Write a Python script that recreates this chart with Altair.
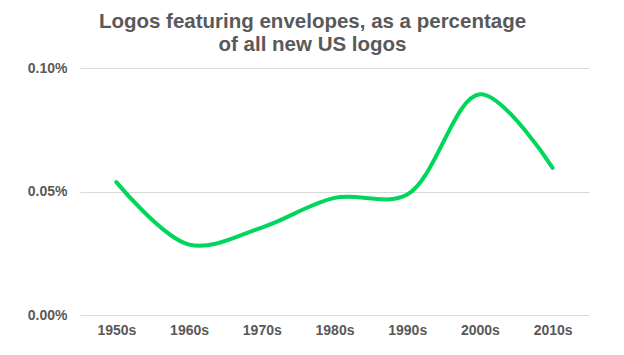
import altair as alt
import pandas as pd

decades = ["1950s", "1960s", "1970s", "1980s", "1990s", "2000s", "2010s"]
share_pct = [0.0538, 0.0285, 0.0354, 0.0474, 0.0488, 0.0894, 0.0596]

df = pd.DataFrame({"decade": decades, "share": [v / 100 for v in share_pct]})

grey = "#595959"
font = "Liberation Sans"

chart = (
    alt.Chart(df)
    .mark_line(interpolate="catmull-rom", color="#00d65b", strokeWidth=4, strokeCap="round")
    .encode(
        x=alt.X("decade:N", sort=decades, title=None,
                scale=alt.Scale(type="point", padding=0.5),
                axis=alt.Axis(labelAngle=0, domain=False, ticks=False, labelPadding=8,
                              labelFont=font, labelFontSize=14, labelFontWeight="bold",
                              labelColor=grey, grid=False)),
        y=alt.Y("share:Q", title=None,
                scale=alt.Scale(domain=[0, 0.001], nice=False),
                axis=alt.Axis(values=[0, 0.0005, 0.001], format=".2%", domain=False, ticks=False,
                              labelPadding=13, labelFont=font, labelFontSize=14,
                              labelFontWeight="bold", labelColor=grey,
                              gridColor="#d9d9d9", gridWidth=1)),
    )
    .properties(
        width=509,
        height=247,
        autosize=alt.AutoSizeParams(type="none"),
        padding={"left": 80, "top": 68, "right": 35, "bottom": 40},
        title=alt.TitleParams(
            ["Logos featuring envelopes, as a percentage", "of all new US logos"],
            font=font, fontSize=20.5, fontWeight="bold", color=grey,
            anchor="middle", dx=-22, offset=6, lineHeight=23,
        ),
    )
    .configure(background="white", view=alt.ViewConfig(stroke=None))
)

chart.save("out.html", embed_options={"renderer": "svg", "actions": False})
